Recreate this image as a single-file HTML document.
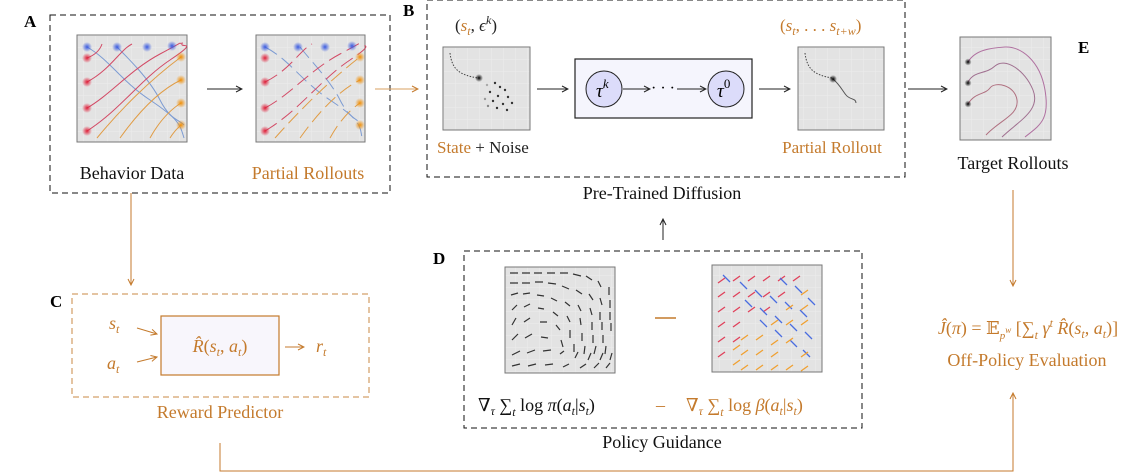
<!DOCTYPE html>
<html><head><meta charset="utf-8">
<style>
html,body{margin:0;padding:0;background:#fff;}
svg{display:block;font-family:"Liberation Serif","DejaVu Serif",serif;}
text,tspan{font-family:"Liberation Serif","DejaVu Serif",serif;}
</style></head>
<body>
<svg width="1142" height="472" viewBox="0 0 1142 472" xmlns="http://www.w3.org/2000/svg" font-family="Liberation Serif, DejaVu Serif, serif">
<defs>
<marker id="ak" markerWidth="8" markerHeight="8" refX="7" refY="4" orient="auto" markerUnits="userSpaceOnUse"><path d="M1,1 L7,4 L1,7" fill="none" stroke="#222" stroke-width="1"/></marker>
<marker id="ao" markerWidth="8" markerHeight="8" refX="7" refY="4" orient="auto" markerUnits="userSpaceOnUse"><path d="M1,1 L7,4 L1,7" fill="none" stroke="#c47a2c" stroke-width="1"/></marker>
<pattern id="grid" width="12" height="12" patternUnits="userSpaceOnUse"><rect width="12" height="12" fill="#e3e3e3"/><path d="M12,0 V12 M0,12 H12" stroke="#ececec" stroke-width="1"/></pattern>
<radialGradient id="gr"><stop offset="0" stop-color="#e0203a"/><stop offset="1" stop-color="#e0203a" stop-opacity="0"/></radialGradient>
<radialGradient id="gb"><stop offset="0" stop-color="#3a5be0"/><stop offset="1" stop-color="#3a5be0" stop-opacity="0"/></radialGradient>
<radialGradient id="go"><stop offset="0" stop-color="#f0900a"/><stop offset="1" stop-color="#f0900a" stop-opacity="0"/></radialGradient>
<radialGradient id="gk"><stop offset="0" stop-color="#000"/><stop offset="1" stop-color="#000" stop-opacity="0"/></radialGradient>
</defs>

<!-- A -->
<text x="24" y="27" font-size="17" font-weight="bold">A</text>
<rect x="50" y="15" width="340" height="178" fill="none" stroke="#111" stroke-dasharray="6,4"/>
<rect x="77" y="35" width="110" height="107" fill="url(#grid)" stroke="#777"/>
<g fill="none" stroke-width="1" opacity="0.85">
<path d="M87,47 C110,60 120,80 150,100 S180,125 184,138" stroke="#6b8fd0"/>
<path d="M117,47 C130,60 150,80 160,100 S180,120 184,125" stroke="#6b8fd0"/>
<path d="M87,58 C95,55 100,50 102,44" stroke="#d03050"/>
<path d="M87,82 C110,70 120,50 132,44" stroke="#d03050"/>
<path d="M87,108 C110,95 130,70 160,54 S175,45 183,43" stroke="#d03050"/>
<path d="M87,131 C120,110 140,80 170,60 S180,48 182,44" stroke="#d03050"/>
<path d="M97,138 C120,110 150,80 181,57" stroke="#e0902a"/>
<path d="M120,138 C140,110 160,90 181,80" stroke="#e0902a"/>
<path d="M150,138 C160,120 170,110 181,103" stroke="#e0902a"/>
<path d="M170,138 C175,130 178,128 181,125" stroke="#e0902a"/>
</g>
<g><circle cx="87" cy="47" r="5" fill="url(#gb)"/><circle cx="117" cy="47" r="5" fill="url(#gb)"/><circle cx="147" cy="47" r="5" fill="url(#gb)"/><circle cx="172" cy="46" r="5" fill="url(#gb)"/>
<circle cx="87" cy="58" r="5" fill="url(#gr)"/><circle cx="87" cy="82" r="5" fill="url(#gr)"/><circle cx="87" cy="108" r="5" fill="url(#gr)"/><circle cx="87" cy="131" r="5" fill="url(#gr)"/>
<circle cx="181" cy="57" r="5" fill="url(#go)"/><circle cx="181" cy="80" r="5" fill="url(#go)"/><circle cx="181" cy="103" r="5" fill="url(#go)"/><circle cx="181" cy="125" r="5" fill="url(#go)"/></g>

<rect x="256" y="35" width="109" height="107" fill="url(#grid)" stroke="#777"/>
<g fill="none" stroke-width="1" opacity="0.85" stroke-dasharray="14,6">
<path d="M265,47 C290,60 300,80 330,100 S360,125 362,138" stroke="#6b8fd0"/>
<path d="M300,47 C310,60 330,80 340,100 S360,120 362,125" stroke="#6b8fd0"/>
<path d="M265,82 C290,70 300,50 312,44" stroke="#d03050"/>
<path d="M265,108 C290,95 310,70 340,54 S355,45 362,43" stroke="#d03050"/>
<path d="M265,131 C300,110 320,80 350,60 S358,48 360,44" stroke="#d03050"/>
<path d="M275,138 C300,110 330,80 360,57" stroke="#e0902a"/>
<path d="M300,138 C320,110 340,90 360,80" stroke="#e0902a"/>
<path d="M330,138 C340,120 350,110 360,103" stroke="#e0902a"/>
</g>
<g><circle cx="265" cy="47" r="5" fill="url(#gb)"/><circle cx="298" cy="47" r="5" fill="url(#gb)"/><circle cx="325" cy="47" r="5" fill="url(#gb)"/><circle cx="352" cy="46" r="5" fill="url(#gb)"/>
<circle cx="265" cy="58" r="5" fill="url(#gr)"/><circle cx="265" cy="82" r="5" fill="url(#gr)"/><circle cx="265" cy="108" r="5" fill="url(#gr)"/><circle cx="265" cy="131" r="5" fill="url(#gr)"/>
<circle cx="360" cy="57" r="5" fill="url(#go)"/><circle cx="360" cy="80" r="5" fill="url(#go)"/><circle cx="360" cy="103" r="5" fill="url(#go)"/><circle cx="360" cy="125" r="5" fill="url(#go)"/></g>
<line x1="207" y1="89" x2="242" y2="89" stroke="#222" marker-end="url(#ak)"/>
<text x="132" y="179" font-size="18" text-anchor="middle" fill="#111">Behavior Data</text>
<text x="308" y="179" font-size="18" text-anchor="middle" fill="#c47a2c">Partial Rollouts</text>
<line x1="375" y1="89" x2="418" y2="89" stroke="#d9a060" marker-end="url(#ao)"/>

<!-- B -->
<text x="403" y="16" font-size="17" font-weight="bold">B</text>
<rect x="427" y="0" width="478" height="177" fill="none" stroke="#111" stroke-dasharray="6,4"/>
<text x="455" y="31" font-size="17" fill="#222">(<tspan fill="#c47a2c" font-style="italic">s</tspan><tspan fill="#c47a2c" font-style="italic" font-size="12" dy="4">t</tspan><tspan dy="-4">, </tspan><tspan font-style="italic">ϵ</tspan><tspan font-style="italic" font-size="12" dy="-7">k</tspan><tspan dy="7">)</tspan></text>
<rect x="443" y="47" width="87" height="83" fill="url(#grid)" stroke="#777"/>
<path d="M450,53 C452,70 460,75 478,78" fill="none" stroke="#444" stroke-dasharray="1.5,1.5"/>
<circle cx="479" cy="78" r="4" fill="url(#gk)"/>
<g fill="#333"><circle cx="487" cy="85" r="1.2" fill="#aaa"/><circle cx="495" cy="83" r="1.2"/><circle cx="500" cy="87" r="1.2"/><circle cx="490" cy="92" r="1.2"/><circle cx="505" cy="90" r="1.2"/><circle cx="498" cy="96" r="1.2"/><circle cx="508" cy="97" r="1.2"/><circle cx="485" cy="99" r="1.2" fill="#999"/><circle cx="493" cy="101" r="1.2"/><circle cx="503" cy="104" r="1.2"/><circle cx="512" cy="103" r="1.2"/><circle cx="497" cy="108" r="1.2"/><circle cx="507" cy="110" r="1.2"/><circle cx="488" cy="106" r="1.2" fill="#888"/></g>
<text x="437" y="153" font-size="17"><tspan fill="#c47a2c">State</tspan><tspan fill="#222"> + Noise</tspan></text>
<line x1="537" y1="89" x2="568" y2="89" stroke="#222" marker-end="url(#ak)"/>
<rect x="575" y="59" width="177" height="59" fill="#f5f5fd" stroke="#222" stroke-width="1.2"/>
<circle cx="604" cy="89" r="18" fill="#dcdcfa" stroke="#222"/>
<circle cx="726" cy="89" r="18" fill="#dcdcfa" stroke="#222"/>
<text x="596" y="97" font-size="19" font-style="italic">τ<tspan font-size="13" dy="-9">k</tspan></text>
<text x="717" y="97" font-size="19" font-style="italic">τ<tspan font-size="13" dy="-9" font-style="normal">0</tspan></text>
<line x1="623" y1="89" x2="650" y2="89" stroke="#222" marker-end="url(#ak)"/>
<text x="651" y="93" font-size="16">· · ·</text>
<line x1="677" y1="89" x2="706" y2="89" stroke="#222" marker-end="url(#ak)"/>
<line x1="759" y1="89" x2="790" y2="89" stroke="#222" marker-end="url(#ak)"/>
<text x="780" y="31" font-size="17" fill="#c47a2c">(<tspan font-style="italic">s</tspan><tspan font-style="italic" font-size="12" dy="4">t</tspan><tspan dy="-4">, . . . </tspan><tspan font-style="italic">s</tspan><tspan font-style="italic" font-size="12" dy="4">t+w</tspan><tspan dy="-4">)</tspan></text>
<rect x="798" y="47" width="86" height="83" fill="url(#grid)" stroke="#777"/>
<path d="M805,53 C807,70 815,75 832,78" fill="none" stroke="#444" stroke-dasharray="1.5,1.5"/>
<path d="M833,79 C840,85 842,90 846,95 S856,98 856,103" fill="none" stroke="#555"/>
<circle cx="833" cy="79" r="4" fill="url(#gk)"/>
<text x="832" y="153" font-size="17" text-anchor="middle" fill="#c47a2c">Partial Rollout</text>
<text x="662" y="199" font-size="18" text-anchor="middle" fill="#111">Pre-Trained Diffusion</text>
<line x1="908" y1="89" x2="947" y2="89" stroke="#222" marker-end="url(#ak)"/>

<!-- E -->
<rect x="960" y="37" width="91" height="103" fill="url(#grid)" stroke="#777"/>
<g fill="none" stroke-width="1">
<path d="M968,62 C975,50 990,48 1005,47 S1040,60 1045,90 S1040,125 1025,137" stroke="#b070a0"/>
<path d="M968,82 C975,70 985,75 995,66 S1025,70 1033,90 S1020,120 1002,137" stroke="#a07090"/>
<path d="M968,104 C975,92 985,95 990,88 S1015,85 1017,100 S1000,120 986,135" stroke="#b07080"/>
</g>
<circle cx="968" cy="62" r="3.5" fill="url(#gk)"/><circle cx="968" cy="83" r="3.5" fill="url(#gk)"/><circle cx="968" cy="104" r="3.5" fill="url(#gk)"/>
<text x="1078" y="53" font-size="17" font-weight="bold">E</text>
<text x="1013" y="169" font-size="18" text-anchor="middle" fill="#111">Target Rollouts</text>
<line x1="1013" y1="190" x2="1013" y2="286" stroke="#c47a2c" marker-end="url(#ao)"/>
<text x="1028" y="334" font-size="18" text-anchor="middle" fill="#c47a2c"><tspan font-style="italic">Ĵ</tspan>(<tspan font-style="italic">π</tspan>) = 𝔼<tspan font-size="11" font-style="italic" dy="5">p</tspan><tspan font-size="9" font-style="italic" dy="-6">w</tspan><tspan dy="1"> </tspan><tspan dy="0">[∑</tspan><tspan font-size="12" font-style="italic" dy="5">t</tspan><tspan dy="-5" font-style="italic"> γ</tspan><tspan font-size="12" font-style="italic" dy="-7">t</tspan><tspan dy="7" font-style="italic"> R̂</tspan>(<tspan font-style="italic">s</tspan><tspan font-size="12" font-style="italic" dy="4">t</tspan><tspan dy="-4">, </tspan><tspan font-style="italic">a</tspan><tspan font-size="12" font-style="italic" dy="4">t</tspan><tspan dy="-4">)]</tspan></text>
<text x="1027" y="366" font-size="18" text-anchor="middle" fill="#c47a2c">Off-Policy Evaluation</text>

<!-- D -->
<line x1="663" y1="240" x2="663" y2="219" stroke="#222" marker-end="url(#ak)"/>
<text x="433" y="264" font-size="17" font-weight="bold">D</text>
<rect x="464" y="251" width="398" height="177" fill="none" stroke="#111" stroke-dasharray="6,4"/>
<rect x="505" y="267" width="110" height="106" fill="url(#grid)" stroke="#777"/>
<g stroke="#333" stroke-width="1.2">
<path d="M510,273h8M522,273h8M534,273h8M547,273h8M560,273h8M573,274l8,2M586,276l6,4M598,281l3,6M609,287v8"/>
<path d="M510,283h8M522,283h8M535,282h8M548,283l8,1M562,286l7,3M576,290l6,4M589,294l4,6M600,298l2,7M610,300v8"/>
<path d="M511,295l7,-2M523,294l7,-1M537,295l7,1M551,298l6,3M565,302l5,4M578,305l3,6M590,308l2,7M600,312v8M610,312v8"/>
<path d="M512,310l5,-5M524,307l6,-3M538,308l6,1M553,312l5,4M567,316l3,6M580,318l1,7M592,322v8M602,322v8M611,323v8"/>
<path d="M512,325l4,-7M524,322l6,-4M540,322h7M556,325l4,5M570,330v8M582,333v8M593,335v8M603,335v8"/>
<path d="M512,340l6,-6M525,338l7,-4M541,337l7,1M561,340l2,7M574,344v8M585,346l-1,8M596,346l-2,8M606,346l-1,8"/>
<path d="M512,355l8,-4M527,353l8,-3M543,351l8,-1M560,354l4,-3M575,358l3,-6M588,360l3,-7M600,360l3,-7M610,360l2,-7"/>
<path d="M512,366l8,-2M528,366l8,-2M545,365l8,-1M563,367l6,-3M580,368l6,-4M594,368l5,-5M606,368l4,-5"/>
</g>
<rect x="712" y="265" width="110" height="107" fill="url(#grid)" stroke="#777"/>
<g stroke-width="1.3">
<g stroke="#e0405a"><path d="M718,283l7,-5M733,281l7,-5M748,281l7,-5M763,281l7,-5M778,281l7,-5M793,281l7,-5M718,297l7,-5M733,297l7,-5M748,297l7,-5M763,297l7,-5M778,297l7,-5M718,312l7,-5M733,312l7,-5M748,312l7,-5M763,312l7,-5M718,327l7,-5M733,327l7,-5M718,342l7,-5M733,342l7,-5M718,357l7,-5"/></g>
<g stroke="#4a6de0"><path d="M723,275l7,7M740,282l7,7M755,290l7,7M770,296l7,7M785,302l7,7M800,310l7,7M745,300l7,7M760,308l7,7M775,316l7,7M790,324l7,7M805,332l7,7M760,320l7,7M775,330l7,7M790,340l7,7M803,350l7,7M780,278l7,7M795,286l7,7M808,298l7,7"/></g>
<g stroke="#f0a030"><path d="M808,290l-7,5M808,305l-7,5M793,305l-7,5M808,320l-7,5M793,320l-7,5M778,320l-7,5M763,335l-7,5M748,335l-7,5M793,338l-7,5M778,340l-7,5M733,350l7,-5M748,350l-7,5M763,350l-7,5M778,352l-7,5M808,352l-7,5M733,365l7,-5M748,365l-7,5M763,365l-7,5M778,365l-7,5M793,365l-7,5M808,366l-7,5"/></g>
</g>
<line x1="655" y1="318" x2="676" y2="318" stroke="#c47a2c" stroke-width="1.5"/>
<text x="478" y="411" font-size="18" fill="#111">∇<tspan font-size="12" font-style="italic" dy="4">τ</tspan><tspan dy="-4"> ∑</tspan><tspan font-size="12" font-style="italic" dy="5">t</tspan><tspan dy="-5"> log </tspan><tspan font-style="italic">π</tspan>(<tspan font-style="italic">a</tspan><tspan font-size="12" font-style="italic" dy="4">t</tspan><tspan dy="-4">|</tspan><tspan font-style="italic">s</tspan><tspan font-size="12" font-style="italic" dy="4">t</tspan><tspan dy="-4">)</tspan></text>
<text x="656" y="411" font-size="18" fill="#c47a2c">–</text>
<text x="686" y="411" font-size="18" fill="#c47a2c">∇<tspan font-size="12" font-style="italic" dy="4">τ</tspan><tspan dy="-4"> ∑</tspan><tspan font-size="12" font-style="italic" dy="5">t</tspan><tspan dy="-5"> log </tspan><tspan font-style="italic">β</tspan>(<tspan font-style="italic">a</tspan><tspan font-size="12" font-style="italic" dy="4">t</tspan><tspan dy="-4">|</tspan><tspan font-style="italic">s</tspan><tspan font-size="12" font-style="italic" dy="4">t</tspan><tspan dy="-4">)</tspan></text>
<text x="662" y="448" font-size="18" text-anchor="middle" fill="#111">Policy Guidance</text>

<!-- C -->
<line x1="131" y1="193" x2="131" y2="285" stroke="#c47a2c" marker-end="url(#ao)"/>
<text x="50" y="307" font-size="17" font-weight="bold">C</text>
<rect x="72" y="294" width="297" height="103" fill="none" stroke="#c98a45" stroke-dasharray="6,4"/>
<rect x="161" y="316" width="118" height="59" fill="#f8f6fc" stroke="#c47a2c" stroke-width="1.2"/>
<text x="220" y="352" font-size="18" text-anchor="middle" fill="#c47a2c"><tspan font-style="italic">R̂</tspan>(<tspan font-style="italic">s</tspan><tspan font-size="12" font-style="italic" dy="4">t</tspan><tspan dy="-4">, </tspan><tspan font-style="italic">a</tspan><tspan font-size="12" font-style="italic" dy="4">t</tspan><tspan dy="-4">)</tspan></text>
<text x="109" y="329" font-size="18" font-style="italic" fill="#c47a2c">s<tspan font-size="12" dy="4">t</tspan></text>
<text x="107" y="369" font-size="18" font-style="italic" fill="#c47a2c">a<tspan font-size="12" dy="4">t</tspan></text>
<line x1="137" y1="328" x2="157" y2="334" stroke="#c47a2c" marker-end="url(#ao)"/>
<line x1="137" y1="362" x2="157" y2="357" stroke="#c47a2c" marker-end="url(#ao)"/>
<line x1="285" y1="347" x2="304" y2="347" stroke="#c47a2c" marker-end="url(#ao)"/>
<text x="316" y="352" font-size="18" font-style="italic" fill="#c47a2c">r<tspan font-size="12" dy="4">t</tspan></text>
<text x="220" y="418" font-size="18" text-anchor="middle" fill="#c47a2c">Reward Predictor</text>

<!-- bottom connector -->
<path d="M220,443 V471 H1013 V393" fill="none" stroke="#c47a2c" marker-end="url(#ao)"/>
</svg>
</body></html>
